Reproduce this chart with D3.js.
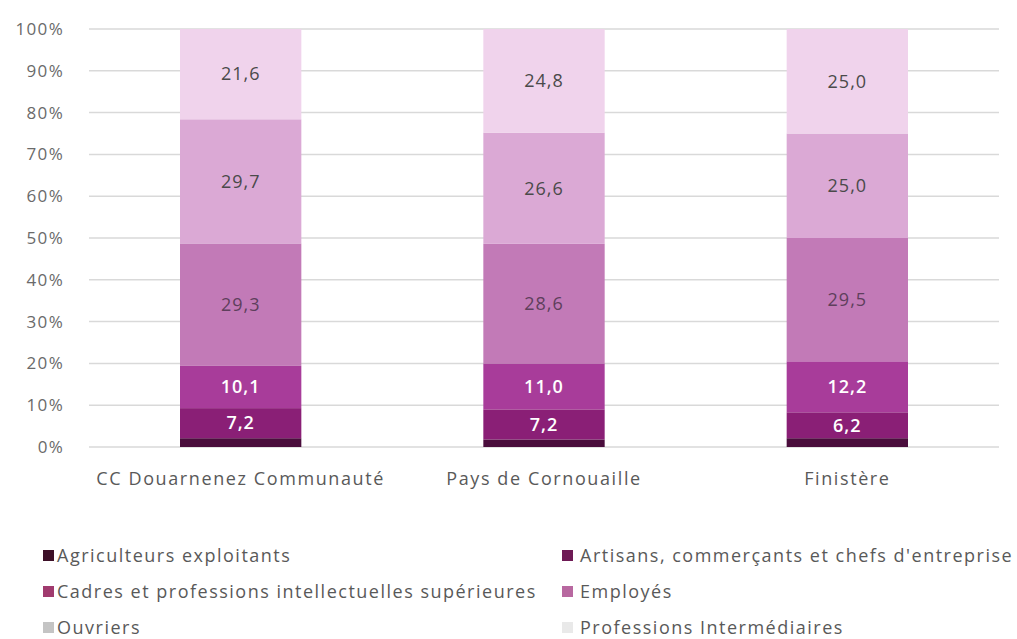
<!DOCTYPE html>
<html>
<head>
<meta charset="utf-8">
<script src="https://cdn.jsdelivr.net/npm/d3@7"></script>
<style>
  body { margin: 0; background: #fff; }
  text { font-family: "Open Sans", sans-serif; fill: #595959; }
</style>
</head>
<body>
<script>
const territories = ["CC Douarnenez Communauté", "Pays de Cornouaille", "Finistère"];
const categories = ["Agriculteurs exploitants", "Artisans, commerçants et chefs d'entreprise",
  "Cadres et professions intellectuelles supérieures", "Employés", "Ouvriers", "Professions Intermédiaires"];
const agriculteurs = [2.1, 1.8, 2.1];
const artisans = [7.2, 7.2, 6.2];
const cadres = [10.1, 11.0, 12.2];
const employes = [29.3, 28.6, 29.5];
const ouvriers = [29.7, 26.6, 25.0];
const intermediaires = [21.6, 24.8, 25.0];
const yTicks = [0, 10, 20, 30, 40, 50, 60, 70, 80, 90, 100];

const barColors = ["#4a0d3c", "#8a1f76", "#a83c9a", "#c27ab7", "#dba9d5", "#f0d3ec"];
const legendColors = ["#3d1028", "#6e1a55", "#a03a6e", "#b868a0", "#c4c4c4", "#e9e9e9"];
const labelFill = [null, "#fff", "#fff", "#5e3f5c", "#4a4a4a", "#4a4a4a"];

const series = [agriculteurs, artisans, cadres, employes, ouvriers, intermediaires];
const rows = territories.map((t, i) => {
  let r = { territory: t };
  categories.forEach((c, k) => r[c] = series[k][i]);
  return r;
});

const width = 1017, height = 639;
const margin = { top: 29, left: 89, right: 18, bottom: 192 };

const svg = d3.select("body").append("svg")
    .attr("width", width)
    .attr("height", height);

const x = d3.scaleBand().domain(territories).range([margin.left, width - margin.right])
    .paddingInner(0.6).paddingOuter(0.3);
const y = d3.scaleLinear().domain([0, 100]).range([height - margin.bottom, margin.top]);

// grid
svg.append("g").selectAll("line").data(yTicks)
  .enter().append("line")
    .attr("x1", margin.left).attr("x2", width - margin.right)
    .attr("y1", d => y(d)).attr("y2", d => y(d))
    .attr("stroke", "#d9d9d9").attr("stroke-width", 1.5);

const yAxis = svg.append("g")
    .attr("transform", `translate(${margin.left - 22},0)`)
    .call(d3.axisLeft(y).tickValues(yTicks).tickSize(0).tickFormat(d => d + "%"));
yAxis.select(".domain").remove();
yAxis.selectAll("text")
    .style("font-size", "17px").style("font-family", "Open Sans")
    .style("letter-spacing", "1.3px").style("fill", "#6a6a6a");

const stacked = d3.stack().keys(categories)(rows);

const layer = svg.append("g").selectAll("g").data(stacked)
  .enter().append("g")
    .attr("fill", (d, i) => barColors[i]);

layer.selectAll("rect").data(d => d)
  .enter().append("rect")
    .attr("x", d => x(d.data.territory))
    .attr("width", x.bandwidth())
    .attr("y", d => y(d[1]))
    .attr("height", d => y(d[0]) - y(d[1]));

// value labels
stacked.forEach((s, i) => {
  if (i === 0) return;
  svg.append("g").selectAll("text").data(s)
    .enter().append("text")
      .attr("x", d => x(d.data.territory) + x.bandwidth() / 2)
      .attr("y", d => (y(d[0]) + y(d[1])) / 2)
      .attr("dy", "0.35em")
      .attr("text-anchor", "middle")
      .style("font-size", "18px")
      .style("letter-spacing", "1px")
      .style("font-weight", i <= 2 ? 600 : 400)
      .style("fill", labelFill[i])
      .text(d => (d[1] - d[0]).toFixed(1).replace(".", ","));
});

// x axis labels
const xAxis = svg.append("g")
    .attr("transform", `translate(0,${y(0) + 22})`)
    .call(d3.axisBottom(x).tickSize(0));
xAxis.select(".domain").remove();
xAxis.selectAll("text")
    .style("font-size", "18px").style("font-family", "Open Sans")
    .style("letter-spacing", "1.6px").style("fill", "#595959");

// legend
const legendPos = [[43, 556], [562, 556], [43, 592], [562, 592], [43, 628], [562, 628]];
const legend = svg.append("g").selectAll("g").data(categories)
  .enter().append("g")
    .attr("transform", (d, i) => `translate(${legendPos[i][0]},${legendPos[i][1]})`);
legend.append("rect")
    .attr("x", 0).attr("y", -6)
    .attr("width", 11).attr("height", 11)
    .attr("fill", (d, i) => legendColors[i]);
legend.append("text")
    .attr("x", (d, i) => i % 2 ? 18 : 14)
    .attr("dy", "0.35em")
    .style("font-size", "18px")
    .style("letter-spacing", "1.5px")
    .text(d => d);
</script>
</body>
</html>
